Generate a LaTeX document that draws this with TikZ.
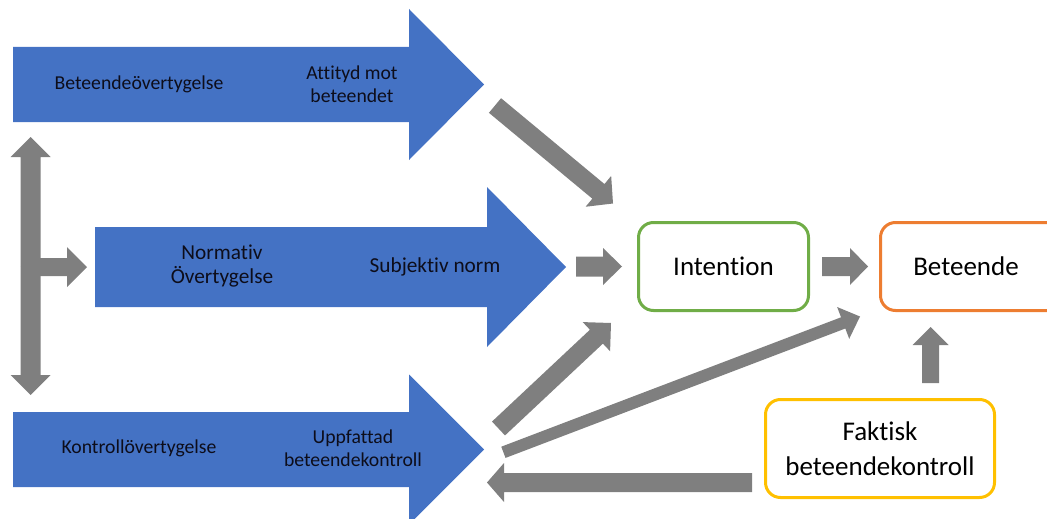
\documentclass[tikz,border=0pt]{standalone}
\usepackage{fontspec}
\setmainfont{Carlito}[Ligatures=NoCommon]
\usetikzlibrary{calc}
\definecolor{pblue}{HTML}{4472C4}
\definecolor{pgray}{HTML}{7F7F7F}
\definecolor{pgreen}{HTML}{70AD47}
\definecolor{porange}{HTML}{ED7D31}
\definecolor{pyellow}{HTML}{FFC000}
\definecolor{ptext}{HTML}{0D0D1A}
\tikzset{
  grayarrow/.style={fill=pgray},
  bluearrow/.style={fill=pblue},
  smalltext/.style={align=center, inner sep=0pt, text=ptext, font=\fontsize{19.7}{23}\selectfont},
  midtext/.style={align=center, inner sep=0pt, text=ptext, font=\fontsize{21.3}{24}\selectfont},
  box/.style={draw, line width=3pt, rounded corners=15pt, fill=white, align=center, inner sep=0pt, text=black, font=\fontsize{27}{35}\selectfont}
}
% block arrow: start, tip, shaft half width, head half width, head length
\newcommand\blockarr[5]{%
  \coordinate (bab) at ($(#2)!#5!(#1)$);
  \fill[grayarrow] ($(#1)!#3!90:(#2)$) -- ($(bab)!#3!90:(#2)$) -- ($(bab)!#4!90:(#2)$) -- (#2)
    -- ($(bab)!#4!-90:(#2)$) -- ($(bab)!#3!-90:(#2)$) -- ($(#1)!#3!-90:(#2)$) -- cycle;
}
% blue block arrow: x0, x1 (head start), xtip, ymid, body half, head half
\newcommand\bluearr[6]{%
  \fill[bluearrow] (#1,#4-#5) -- (#2,#4-#5) -- (#2,#4-#6) -- (#3,#4) -- (#2,#4+#6) -- (#2,#4+#5) -- (#1,#4+#5) -- cycle;
}
\begin{document}
\begin{tikzpicture}[x=1pt,y=-1pt]
\useasboundingbox (0,0) rectangle (1047,519);
\clip (0,0) rectangle (1047,519);

% blue arrows
\bluearr{13}{409}{484}{84.5}{37.5}{75.5}
\bluearr{95}{487}{566}{267}{40}{80}
\bluearr{13}{409}{484}{449.5}{37.5}{75}

\node[smalltext] (b1) at (139,84.5) {Beteendeövertygelse};
\node[smalltext] (a1) at (352,84.5) {Attityd mot\\beteendet};
\node[midtext] (n1) at (222,266) {Normativ\\Övertygelse};
\node[midtext] (s1) at (435,267) {Subjektiv norm};
\node[smalltext] (k1) at (139,448) {Kontrollövertygelse};
\node[smalltext] (u1) at (353,448) {Uppfattad\\beteendekontroll};

% boxes
\node[box, draw=pgreen, minimum width=170pt, minimum height=88pt] (intention) at (723.5,266.5) {\raisebox{-2pt}{Intention}};
\node[box, draw=porange, minimum width=184pt, minimum height=88pt] (beteende) at (972.5,266.5) {\hspace*{-13pt}\raisebox{-2pt}{Beteende}};
\node[box, draw=pyellow, minimum width=229pt, minimum height=98pt] (faktisk) at (880,448.5) {Faktisk\\beteendekontroll};

% left T arrow
\coordinate (lv) at (30.7,266);
\coordinate (lvt) at (30.7,137);
\coordinate (lvb) at (30.7,395);
\coordinate (lbt) at (87,267);
\coordinate (lbs) at (30.7,267);
\blockarr{lv}{lvt}{10pt}{20pt}{20pt}
\blockarr{lv}{lvb}{10pt}{20pt}{20pt}
\blockarr{lbs}{lbt}{9pt}{20pt}{20pt}

% gray connectors
\coordinate (d1s) at (495,105.5);   \coordinate (d1t) at (613,203.5);
\coordinate (m1s) at (576,266.5);   \coordinate (m1t) at (622,266.5);
\coordinate (ib1) at (822,266.5);   \coordinate (ib2) at (868,266.5);
\coordinate (u2s) at (498.5,428.5); \coordinate (u2t) at (611,323);
\coordinate (l2s) at (503.4,452.3); \coordinate (l2t) at (860,316.5);
\coordinate (bls) at (752,482.5);   \coordinate (blt) at (487,482.5);
\coordinate (ups) at (930.5,383);   \coordinate (upt) at (930.5,327);

\blockarr{d1s}{d1t}{9.5pt}{20pt}{19pt}
\blockarr{m1s}{m1t}{10pt}{18.5pt}{19pt}
\blockarr{ib1}{ib2}{9.5pt}{18.5pt}{18pt}
\blockarr{u2s}{u2t}{9.5pt}{20pt}{20pt}
\blockarr{l2s}{l2t}{6pt}{17pt}{18pt}
\blockarr{bls}{blt}{9.5pt}{19.5pt}{17pt}
\blockarr{ups}{upt}{8.5pt}{18pt}{18pt}
\end{tikzpicture}
\end{document}
